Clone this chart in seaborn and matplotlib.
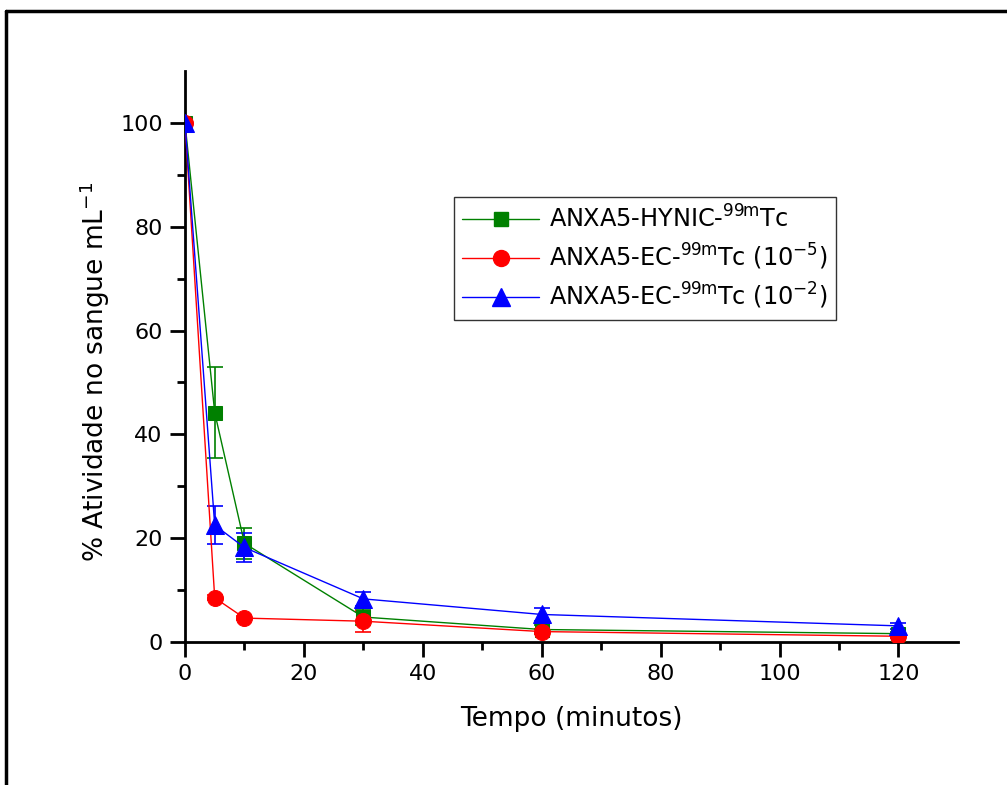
import numpy as np
import pandas as pd
import matplotlib
matplotlib.use("Agg")
import matplotlib.pyplot as plt
from matplotlib.lines import Line2D
import seaborn as sns

sns.set_style("ticks")
plt.rcParams['font.family'] = ['DejaVu Sans']
plt.rcParams['mathtext.default'] = 'regular'
for k in ['text.color', 'axes.labelcolor', 'xtick.color', 'ytick.color', 'axes.edgecolor']:
    plt.rcParams[k] = 'black'

tempo = [0, 5, 10, 30, 60, 120]
hynic = [100, 44.2, 19.0, 4.8, 2.4, 1.6]
hynic_err = [0, 8.7, 3.0, 1.5, 0.8, 0.4]
ec5 = [100, 8.5, 4.6, 4.0, 2.0, 1.1]
ec5_err = [0, 0.5, 0.4, 2.0, 0.5, 0.3]
ec2 = [100, 22.5, 18.2, 8.3, 5.3, 3.1]
ec2_err = [0, 3.6, 2.7, 1.4, 1.2, 0.6]

labels = [r'ANXA5-HYNIC-$^{99m}$Tc',
          r'ANXA5-EC-$^{99m}$Tc (10$^{-5}$)',
          r'ANXA5-EC-$^{99m}$Tc (10$^{-2}$)']
colors = ['#008000', '#ff0000', '#0000ff']
markers = ['s', 'o', '^']
msizes = [10.5, 11.5, 12.5]
series = [(hynic, hynic_err), (ec5, ec5_err), (ec2, ec2_err)]

fig = plt.figure(figsize=(10.07, 7.85), dpi=100)
ax = fig.add_axes([0.1837, 0.1822, 0.7676, 0.7274])

for (vals, errs), lab, c, m, ms in zip(series, labels, colors, markers, msizes):
    df = pd.DataFrame({'t': tempo, 'v': vals})
    ax.errorbar(tempo, vals, yerr=errs, fmt='none', ecolor=c, elinewidth=1.2,
                capsize=6, capthick=1.2, zorder=2)
    sns.lineplot(data=df, x='t', y='v', ax=ax, color=c, marker=m, markersize=ms,
                 markeredgecolor=c, linewidth=1.0, label=lab, zorder=3)

ax.set_xlim(0, 130)
ax.set_ylim(0, 110)
ax.set_xticks([0, 20, 40, 60, 80, 100, 120])
ax.set_yticks([0, 20, 40, 60, 80, 100])
ax.set_xticks(np.arange(10, 130, 20), minor=True)
ax.set_yticks(np.arange(10, 110, 20), minor=True)
ax.tick_params(axis='both', which='major', direction='out', length=11, width=2,
               labelsize=16, pad=5)
ax.tick_params(axis='both', which='minor', direction='out', length=6, width=2)
for s in ['left', 'bottom']:
    ax.spines[s].set_linewidth(2)
for s in ['top', 'right']:
    ax.spines[s].set_visible(False)

ax.set_xlabel('Tempo (minutos)', fontsize=19, labelpad=16)
ax.set_ylabel(r'% Atividade no sangue mL$^{-1}$', fontsize=19)
ax.yaxis.set_label_coords(-0.094, 0.473)

handles = [Line2D([0], [0], color=c, marker=m, markersize=ms, linewidth=1.0)
           for c, m, ms in zip(colors, markers, msizes)]
leg = ax.legend(handles, labels, loc='upper left',
                bbox_to_anchor=(454/1007, 1 - 197/785), bbox_transform=fig.transFigure,
                borderaxespad=0, fontsize=17.3, frameon=True, fancybox=False,
                edgecolor='black', handlelength=3.2, handletextpad=0.4,
                borderpad=0.35, labelspacing=0.38)
leg.get_frame().set_linewidth(1.0)

# figure frame
fig.add_artist(Line2D([6/1007, 1.0], [1 - 11/785, 1 - 11/785], color='black',
                      linewidth=2.5, transform=fig.transFigure))
fig.add_artist(Line2D([6/1007, 6/1007], [0, 1 - 11/785], color='black',
                      linewidth=2.5, transform=fig.transFigure))

fig.savefig('out.png', dpi=100)
